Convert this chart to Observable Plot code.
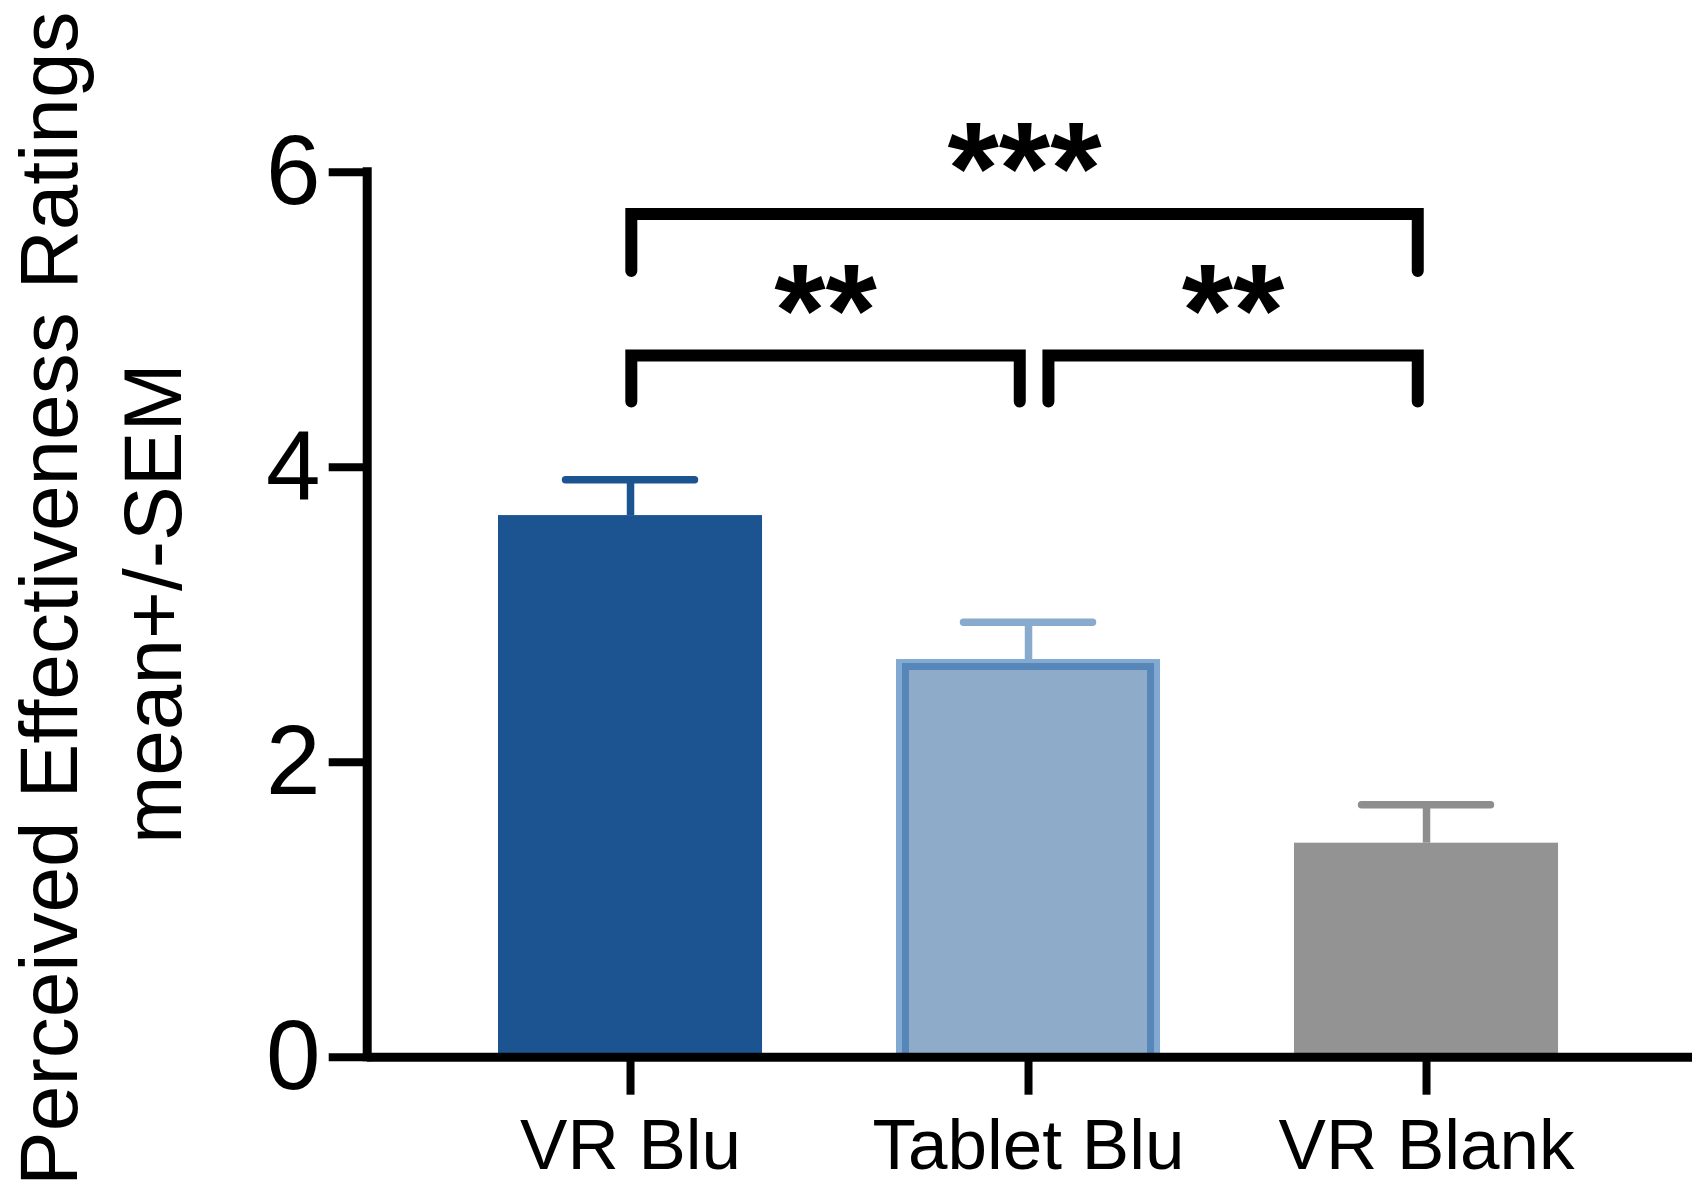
<!DOCTYPE html>
<html><head><meta charset="utf-8">
<script src="https://cdn.jsdelivr.net/npm/d3@7"></script>
<script src="https://cdn.jsdelivr.net/npm/@observablehq/plot@0.6"></script>
<style>html,body{margin:0;padding:0;background:#fff} svg{display:block}</style>
</head><body><div id="chart"></div>
<script>
// ---- data ----
const categories = ["VR Blu", "Tablet Blu", "VR Blank"];
const means = [3.672, 2.696, 1.451];
const sems = [0.243, 0.253, 0.26];
const barColors = ["#1c5491", "#8eacca", "#939393"];
const errColors = ["#1c5491", "#88aacd", "#8e8e8e"];
const yTicks = [0, 2, 4, 6];
const yTitle = ["Perceived Effectiveness Ratings", "mean+/-SEM"];
// significance comparisons
const compFrom = [0, 0, 1];
const compTo = [2, 1, 2];
const compLabels = ["***", "**", "**"];
const compY = [5.717, 4.757, 4.757];
const compLegY = [5.33, 4.445, 4.445];

// ---- layout / style constants ----
const W = 1703, H = 1201;
const xDomain = [-0.6616, 2.6683];
const barHalf = 0.3317, capHalf = 0.162;
const startInset = [0.002, 0.002, 0.05], endInset = 0.022;
const FONT = "'Liberation Sans', Arial, Helvetica, sans-serif";

const data = categories.map((c, i) => ({i, c, mean: means[i], top: means[i] + sems[i]}));
const bracketPts = compLabels.flatMap((lab, k) => {
  const x1 = compFrom[k] + startInset[k], x2 = compTo[k] - endInset;
  return [
    {k, x: x1, y: compLegY[k]}, {k, x: x1, y: compY[k]},
    {k, x: x2, y: compY[k]}, {k, x: x2, y: compLegY[k]}
  ];
});
const labelPts = compLabels.map((lab, k) => ({
  lab, x: (compFrom[k] + startInset[k] + compTo[k] - endInset) / 2, y: compY[k]
}));

const plot = Plot.plot({
  width: W, height: H,
  marginLeft: 366.7, marginRight: 11, marginTop: 171.7, marginBottom: 144.3,
  style: {fontFamily: FONT, background: "white", overflow: "visible", color: "black"},
  x: {type: "linear", domain: xDomain},
  y: {domain: [0, 6]},
  color: {type: "identity"},
  marks: [
    Plot.ruleX(data, {x: "i", y1: "mean", y2: "top", stroke: d => errColors[d.i], strokeWidth: 7.5}),
    Plot.ruleY(data, {y: "top", x1: d => d.i - capHalf, x2: d => d.i + capHalf, stroke: d => errColors[d.i], strokeWidth: 7.5, strokeLinecap: "round"}),
    Plot.rectY(data, {x1: d => d.i - barHalf, x2: d => d.i + barHalf, y1: 0, y2: "mean", fill: d => d.i === 1 ? "#82a9d2" : barColors[d.i]}),
    Plot.rectY(data.filter(d => d.i === 1), {x1: d => d.i - barHalf, x2: d => d.i + barHalf, y1: 0, y2: "mean", fill: d => barColors[d.i], stroke: "#5787b9", strokeWidth: 7, insetTop: 7.5, insetLeft: 9.5, insetRight: 9.5}),
    Plot.line(bracketPts, {x: "x", y: "y", z: "k", stroke: "black", strokeWidth: 12, strokeLinecap: "round", strokeLinejoin: "miter", strokeMiterlimit: 10}),
    Plot.text(labelPts, {x: "x", y: "y", text: "lab", fontSize: 132, fontWeight: "bold", dy: -42, lineAnchor: "middle"}),
    Plot.ruleY([0], {strokeWidth: 9}),
    Plot.ruleX([xDomain[0]], {y1: 0, y2: 6, strokeWidth: 9, strokeLinecap: "square"}),
    Plot.axisY({ticks: yTicks, tickFormat: d => String(d), tickSize: 38, tickPadding: 8.7, fontSize: 98, strokeWidth: 8, label: null}),
    Plot.axisX({ticks: [0, 1, 2], tickFormat: i => categories[i], tickSize: 38, tickPadding: 23, fontSize: 71, strokeWidth: 8, label: null}),
    Plot.text([yTitle[0]], {frameAnchor: "left", text: d => d, rotate: -90, fontSize: 82, textAnchor: "middle", lineAnchor: "bottom", dx: -290.7, dy: -16}),
    Plot.text([yTitle[1]], {frameAnchor: "left", text: d => d, rotate: -90, fontSize: 82, textAnchor: "middle", lineAnchor: "bottom", dx: -186.7, dy: -11})
  ]
});
document.getElementById("chart").appendChild(plot);
</script>
</body></html>
